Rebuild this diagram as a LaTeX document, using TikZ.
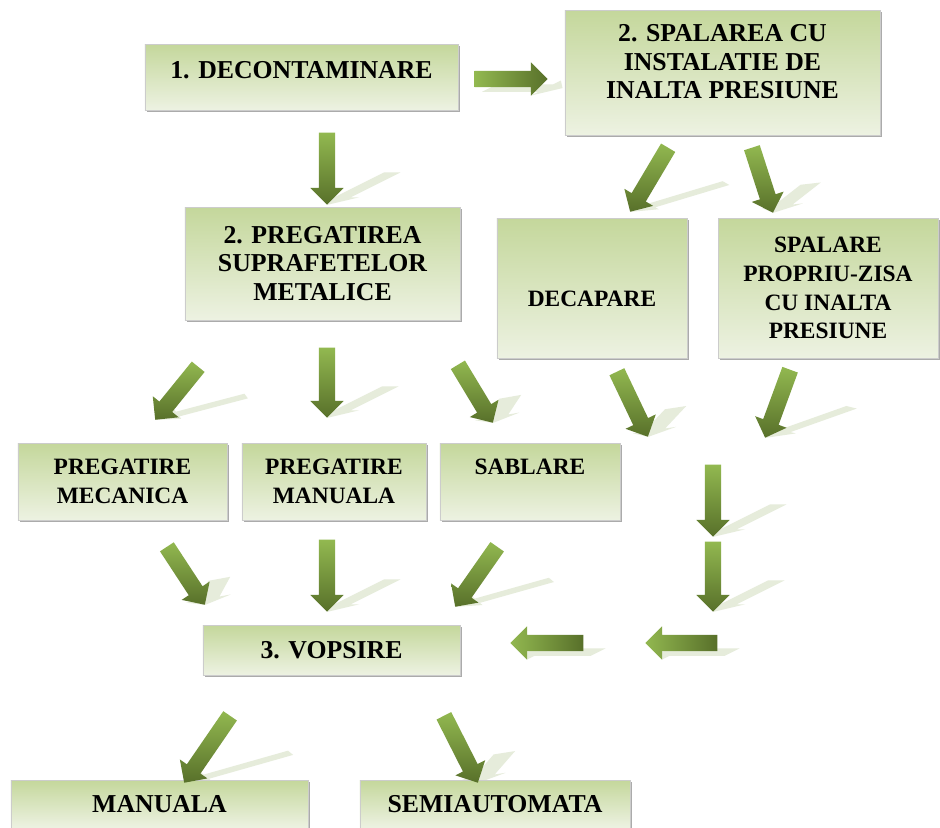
\documentclass[tikz,border=0pt]{standalone}
\usepackage{fontspec}
\setmainfont{Liberation Serif}
\usetikzlibrary{shapes.arrows,shadows,positioning,calc}
\definecolor{boxgreen}{RGB}{196,215,155}
\definecolor{boxpale}{RGB}{237,242,226}
\definecolor{arrowlight}{RGB}{146,184,80}
\definecolor{arrowdark}{RGB}{88,112,42}
\definecolor{trail}{RGB}{230,236,219}
\pgfdeclarelayer{bg}
\pgfsetlayers{bg,main}

\newdimen\flAx \newdimen\flAy \newdimen\flBx \newdimen\flBy
% block arrow from tail #1 to tip #2, with its pale trail on the floor
\newcommand{\flowarrow}[2]{%
  \pgfextractx{\flAx}{\pgfpointanchor{#1}{center}}%
  \pgfextracty{\flAy}{\pgfpointanchor{#1}{center}}%
  \pgfextractx{\flBx}{\pgfpointanchor{#2}{center}}%
  \pgfextracty{\flBy}{\pgfpointanchor{#2}{center}}%
  \pgfmathsetmacro\flAng{atan2(\flBy-\flAy,\flBx-\flAx)}%
  \pgfmathsetmacro\flLen{veclen(\flBx-\flAx,\flBy-\flAy)}%
  \pgfmathsetmacro\flSh{ifthenelse(abs(sin(\flAng))>0.5,0,90)}%
  \pgfmathsetmacro\flDrop{max(0,14.08*(abs(cos(\flAng))-abs(sin(\flAng))))}%
  \begin{pgfonlayer}{bg}
  \begin{scope}[shift={(\the\flBx,\the\flBy-\flDrop pt)}, cm={1,0,0.9,0.45,(0,0)}]
    \node[flowshade, minimum height=\flLen pt, rotate=\flAng, transform shape] (sh#2) at (0pt,\flDrop pt) {};
  \end{scope}
  \end{pgfonlayer}
  \node[flow, minimum height=\flLen pt, rotate=\flAng, shading angle=\flSh] (ar#2) at (#2) {};
}

\begin{document}
\begin{tikzpicture}[x=0.03cm,y=-0.03cm]
\tikzstyle{box}=[draw=black!20, top color=boxgreen, bottom color=boxpale, inner sep=0pt, align=center,
  font=\bfseries\fontsize{22}{24.5}\selectfont,
  drop shadow={shadow xshift=0.07cm, shadow yshift=-0.07cm, fill=black!55, opacity=0.6}]
\tikzstyle{small}=[font=\bfseries\fontsize{20}{24.5}\selectfont]
\tikzstyle{flow}=[single arrow, anchor=tip, inner xsep=0pt, inner ysep=0.24cm, single arrow head extend=0.255cm,
  top color=arrowlight, bottom color=arrowdark]
\tikzstyle{flowshade}=[single arrow, anchor=tip, inner xsep=0pt, inner ysep=0.24cm, single arrow head extend=0.255cm,
  fill=trail]
\begin{pgfonlayer}{bg}
\fill[white] (0,0) rectangle (940,827);
\end{pgfonlayer}
\useasboundingbox (0,0) rectangle (940,827);

% boxes
\node[box, minimum width=9.39cm, minimum height=1.98cm, text depth=12pt] (decon) at (301.5,77) {1. DECONTAMINARE};
\node[box, minimum width=9.45cm, minimum height=3.75cm] (spal) at (722.5,72.5)
  {2. SPALAREA CU\\INSTALATIE DE\\INALTA PRESIUNE\\[-6pt]\mbox{}};
\node[box, minimum width=8.25cm, minimum height=3.39cm] (pregs) at (322.5,263.5)
  {2. PREGATIREA\\SUPRAFETELOR\\METALICE};
\node[box, small, minimum width=5.7cm, minimum height=4.2cm, text height=31pt] (decap) at (592,288) {DECAPARE};
\node[box, small, minimum width=6.6cm, minimum height=4.2cm] (spalp) at (828,288)
  {SPALARE\\PROPRIU-ZISA\\CU INALTA\\PRESIUNE};
\node[box, small, minimum width=6.27cm, minimum height=2.31cm] (mec) at (122.5,481.5) {PREGATIRE\\MECANICA};
\node[box, small, minimum width=5.52cm, minimum height=2.31cm] (man) at (334,481.5) {PREGATIRE\\MANUALA};
\node[box, small, minimum width=5.4cm, minimum height=2.31cm] (sab) at (530,481.5) {SABLARE\\~};
\node[box, minimum width=7.71cm, minimum height=1.5cm] (vops) at (331.5,650) {3. VOPSIRE};
\node[box, minimum width=8.91cm, minimum height=1.44cm] (manu) at (159.5,804) {MANUALA};
\node[box, minimum width=8.1cm, minimum height=1.44cm] (semi) at (495,804) {SEMIAUTOMATA};

% arrow tails (s) and tips (e)
\foreach \n/\x/\y/\u/\v in {1/475/79/548/79, 2/327/133/327/205, 3/668/148/630/212, 4/752/148/773/213,
    5/198/367/155/420, 6/327/348/327/418, 7/458/365/493/423, 8/617/372/648/437, 9/790/370/765/438,
    10/713/465/713/537, 11/713/542/713/612, 12/717/643/645/643, 13/583/643/510/643,
    14/167/547/205/605, 15/327/540/327/612, 16/497/547/455/607, 17/230/716/184/783, 18/444/716/478/783}
  {
   \coordinate (s\n) at (\x,\y);
   \coordinate (e\n) at (\u,\v);
  }
\foreach \n in {1,...,18}
  \flowarrow{s\n}{e\n};
\end{tikzpicture}
\end{document}
